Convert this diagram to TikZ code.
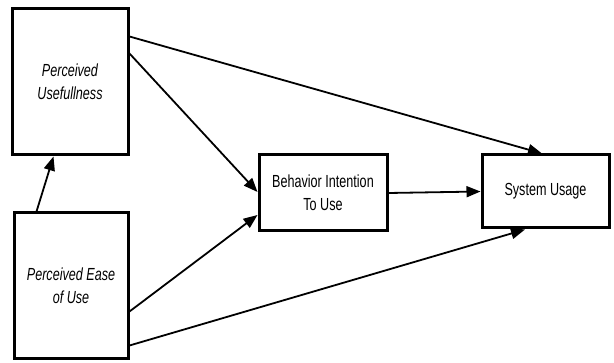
\documentclass[tikz,border=0pt]{standalone}
\usepackage{fontspec}
\setmainfont{Liberation Sans}[FakeStretch=0.72]
\usetikzlibrary{arrows.meta,calc}
\begin{document}
\begin{tikzpicture}[x=1pt,y=-1pt,
  box/.style={draw,line width=3pt,inner sep=0pt,align=center,font=\fontsize{17.5}{23}\selectfont},
  conn/.style={line width=1.8pt,-{Triangle[length=14pt,width=11pt]}}]
\useasboundingbox[fill=white] (0,0) rectangle (614,363);
\node[box,minimum width=116pt,minimum height=146pt] (PU) at (70,82) {\itshape Perceived\\\itshape Usefullness};
\node[box,minimum width=114pt,minimum height=146pt] (PEOU) at (71,286) {\itshape Perceived Ease\\\itshape of Use};
\node[box,minimum width=128pt,minimum height=76pt] (BIU) at (323,193) {Behavior Intention\\To Use};
\node[box,minimum width=127pt,minimum height=73pt] (SU) at (545.5,191.5) {System Usage};
\draw[conn] ($(PEOU.north west)+(24,0)$) -- ($(PU.south west)+(43,0)$);
\draw[conn] ($(PU.north east)+(0,46)$) -- ($(BIU.west)+(0,-1)$);
\draw[conn] ($(PU.north east)+(0,29)$) -- ($(SU.north)+(-3.5,0)$);
\draw[conn] ($(PEOU.north east)+(0,100)$) -- ($(BIU.west)+(0,22)$);
\draw[conn] ($(PEOU.south east)+(0,-15)$) -- ($(SU.south)+(-20.5,0)$);
\draw[conn] ($(BIU.east)+(0,0)$) -- ($(SU.west)+(0,0)$);
\end{tikzpicture}
\end{document}
